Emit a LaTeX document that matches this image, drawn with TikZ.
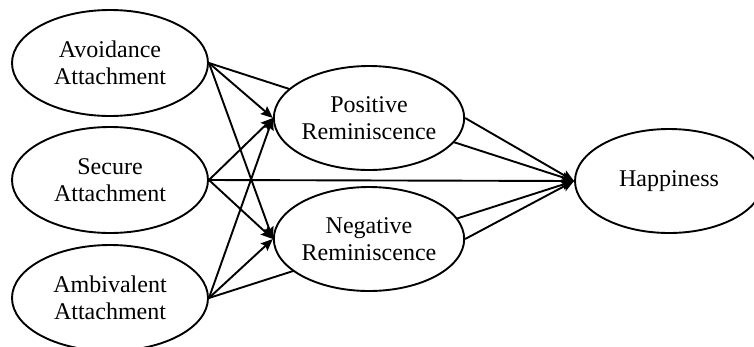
\documentclass[tikz,border=0pt]{standalone}
\usepackage{fontspec}
\setmainfont{Liberation Serif}
\usetikzlibrary{shapes.geometric,arrows.meta,backgrounds}
\begin{document}
\begin{tikzpicture}[x=1pt,y=-1pt,
  var/.style={ellipse,draw,line width=1.9pt,fill=white,minimum width=196pt,minimum height=106pt,inner sep=0pt,align=center,font=\fontsize{24}{27}\selectfont},
  var2/.style={var,minimum width=188pt,minimum height=104pt},
  path/.style={line width=1.9pt,-{Stealth[length=12pt,width=10pt,inset=2pt]}}]
\useasboundingbox (0,0) rectangle (754,346);
\clip (0,0) rectangle (754,346);
\node[var] (av) at (110,63) {Avoidance\\Attachment};
\node[var] (se) at (110,180) {Secure\\Attachment};
\node[var] (am) at (110,298) {Ambivalent\\Attachment};
\node[var2] (po) at (369,118) {Positive\\Reminiscence};
\node[var2] (ne) at (369,239) {Negative\\Reminiscence};
\node[var2] (ha) at (669,181) {Happiness};
\begin{scope}[on background layer]
\foreach \s in {av,se,am}{
  \draw[path] (\s.east) -- (po.west);
  \draw[path] (\s.east) -- (ne.west);
  \draw[path] (\s.east) -- (ha.west);
}
\draw[path] (po.east) -- (ha.west);
\draw[path] (ne.east) -- (ha.west);
\end{scope}
\end{tikzpicture}
\end{document}
